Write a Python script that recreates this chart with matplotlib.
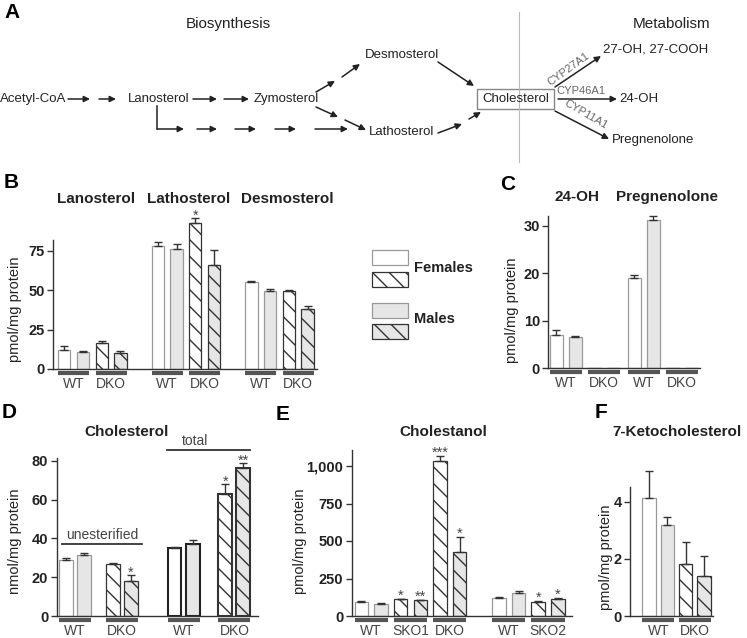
import numpy as np
import matplotlib.pyplot as plt
from matplotlib.patches import Rectangle
from matplotlib import transforms as mtransforms
from matplotlib.ticker import StrMethodFormatter

plt.rcParams['font.family'] = ['Liberation Sans', 'DejaVu Sans']
plt.rcParams['hatch.linewidth'] = 1.0

W, H = 747, 638

# ---- data ----
# bar order in every pair of groups: female WT-like, male, female hatched, male hatched
lanosterol = [12.0, 10.5, 16.3, 10.4]
lanosterol_err = [2.8, 0.9, 1.3, 0.7]
lathosterol = [78.0, 76.0, 92.3, 66.0]
lathosterol_err = [2.5, 3.5, 3.2, 9.3]
desmosterol = [55.0, 49.3, 49.2, 38.2]
desmosterol_err = [0.5, 1.2, 0.7, 2.0]
b_labels = ['WT', 'DKO', 'WT', 'DKO', 'WT', 'DKO']

oh24 = [7.0, 6.6, 0.0, 0.0]
oh24_err = [1.0, 0.3, 0.0, 0.0]
pregnenolone = [19.1, 31.2, 0.0, 0.0]
pregnenolone_err = [0.5, 0.8, 0.0, 0.0]
c_labels = ['WT', 'DKO', 'WT', 'DKO']

unesterified = [29.0, 31.5, 26.8, 18.0]
unesterified_err = [1.0, 1.0, 0.4, 3.0]
total_chol = [35.2, 37.4, 62.7, 76.4]
total_chol_err = [0.4, 1.8, 5.2, 2.3]
d_labels = ['WT', 'DKO', 'WT', 'DKO']

cholestanol = [95, 82, 111, 106, 1035, 430, 118, 152, 96, 112]
cholestanol_err = [6, 4, 4, 4, 32, 98, 7, 14, 5, 8]
e_labels = ['WT', 'SKO1', 'DKO', 'WT', 'SKO2']

keto7 = [4.14, 3.18, 1.81, 1.40]
keto7_err = [0.93, 0.29, 0.77, 0.71]
f_labels = ['WT', 'DKO']

GRAY = '#e6e6e6'
HATCH = '\\\\'

fig = plt.figure(figsize=(W / 100, H / 100), dpi=100)

# overlay in pixel coordinates for diagram, titles, legend
ov = fig.add_axes([0, 0, 1, 1])
ov.set_xlim(0, W)
ov.set_ylim(H, 0)
ov.axis('off')


def px_axes(left, right, y0, top):
    ax = fig.add_axes([left / W, 1 - y0 / H, (right - left) / W, (y0 - top) / H])
    ax.set_facecolor('none')
    for s in ['top', 'right']:
        ax.spines[s].set_visible(False)
    for s in ['left', 'bottom']:
        ax.spines[s].set_color('#333')
        ax.spines[s].set_linewidth(1.0)
    ax.tick_params(axis='y', length=4, width=1, color='#333', labelsize=10.5,
                   labelcolor='#222', pad=2)
    ax.tick_params(axis='x', length=0, labelsize=10, labelcolor='#444', pad=5.5)
    return ax


def bold_ticks(ax):
    for t in ax.get_yticklabels():
        t.set_fontweight('bold')


def draw_bars(ax, pos, vals, errs, width, kinds, open_edge='#999', lw=0.9):
    faces = [GRAY if k in ('M', 'Mh') else 'white' for k in kinds]
    edges = ['#333' if k.endswith('h') else open_edge for k in kinds]
    bars = ax.bar(pos, vals, width, color=faces, edgecolor=edges, linewidth=lw, zorder=2)
    for b, k in zip(bars, kinds):
        if k.endswith('h'):
            b.set_hatch(HATCH)
    pos = np.asarray(pos, float)
    vals = np.asarray(vals, float)
    errs = np.asarray(errs, float)
    m = errs > 0
    ax.errorbar(pos[m], vals[m], yerr=[np.zeros(m.sum()), errs[m]], fmt='none',
                ecolor='#333', elinewidth=1, capsize=3, capthick=1, zorder=3)


def group_marks(ax, pos, width, pairs, labels):
    trans = mtransforms.offset_copy(ax.get_xaxis_transform(), fig=fig, y=-4, units='dots')
    centers = []
    for a, b in pairs:
        ax.plot([pos[a] - width / 2, pos[b] + width / 2], [0, 0], transform=trans,
                color='#555', lw=3, solid_capstyle='butt', clip_on=False)
        centers.append((pos[a] + pos[b]) / 2)
    ax.set_xticks(centers)
    ax.set_xticklabels(labels)


def pairs_of(n):
    return [(2 * i, 2 * i + 1) for i in range(n)]


def stars(ax, x, top, txt):
    ax.annotate(txt, (x, top), xytext=(0, -3), textcoords='offset points',
                ha='center', va='bottom', fontsize=10.5, color='#444', annotation_clip=False)


KINDS4 = ['F', 'M', 'Fh', 'Mh']
title_kw = dict(fontsize=11, fontweight='bold', ha='center', va='center', color='#222')
ylab_kw = dict(rotation=90, fontsize=10.5, ha='center', va='center', color='#222')

# ---------------- panel A ----------------
ov.text(4, 12, 'A', fontsize=15, fontweight='bold', va='center')
ov.text(228, 24, 'Biosynthesis', fontsize=11, ha='center', va='center', color='#222')
ov.text(672, 24, 'Metabolism', fontsize=11, ha='center', va='center', color='#222')
ov.plot([519, 519], [12, 162], color='#bbb', lw=0.8)

node_kw = dict(fontsize=9.5, va='center', color='#222')
ov.text(0, 99, 'Acetyl-CoA', **node_kw)
ov.text(128, 99, 'Lanosterol', **node_kw)
ov.text(254, 99, 'Zymosterol', **node_kw)
ov.text(365, 55, 'Desmosterol', **node_kw)
ov.text(369, 132, 'Lathosterol', **node_kw)
ov.add_patch(Rectangle((477, 89), 77, 20, fill=False, edgecolor='#888', lw=1))
ov.text(515.5, 99, 'Cholesterol', ha='center', **node_kw)
ov.text(603, 50, '27-OH, 27-COOH', **node_kw)
ov.text(619, 99, '24-OH', **node_kw)
ov.text(612, 140, 'Pregnenolone', **node_kw)

arrows = [
    ((68, 99), (90, 99)), ((99, 99), (116, 99)),
    ((193, 99), (217, 99)), ((224, 99), (249, 99)),
    ((316, 92), (335, 81)), ((342, 77), (360, 64)),
    ((316, 107), (338, 117)), ((345, 120), (366, 130)),
    ((438, 62), (474, 86)),
    ((438, 133), (462, 124)), ((469, 119), (481, 112)),
    ((157, 129), (184, 129)), ((197, 129), (217, 129)), ((235, 129), (256, 129)),
    ((275, 129), (296, 129)), ((315, 129), (348, 129)),
    ((555, 87), (601, 56)), ((558, 99), (617, 99)), ((555, 111), (609, 139)),
]
for tail, head in arrows:
    ov.annotate('', xy=head, xytext=tail,
                arrowprops=dict(arrowstyle='-|>', color='#222', lw=1.1,
                                mutation_scale=9, shrinkA=0, shrinkB=0))
ov.plot([157, 157], [106, 129], color='#222', lw=1.1)

cyp_kw = dict(fontsize=8, color='#666', ha='center', va='center', rotation_mode='anchor')
ov.text(568, 69, 'CYP27A1', rotation=36, **cyp_kw)
ov.text(581, 91, 'CYP46A1', **cyp_kw)
ov.text(586, 114, 'CYP11A1', rotation=-30, **cyp_kw)

# ---------------- panel B ----------------
ov.text(4, 182, 'B', fontsize=15, fontweight='bold', va='center')
for name, x in zip(['Lanosterol', 'Lathosterol', 'Desmosterol'], [96, 189, 287]):
    ov.text(x, 199, name, **title_kw)
ov.text(15, 309, 'pmol/mg protein', **ylab_kw)

axB = px_axes(53, 317, 369, 211.3)
axB.set_xlim(-0.6, 13.5)
axB.set_ylim(0, 100)
axB.set_yticks([0, 25, 50, 75])
bold_ticks(axB)
axB.spines['left'].set_bounds(0, 82)
posB = [g * 5 + i for g in range(3) for i in range(4)]
valsB = lanosterol + lathosterol + desmosterol
errsB = lanosterol_err + lathosterol_err + desmosterol_err
draw_bars(axB, posB, valsB, errsB, 0.66, KINDS4 * 3)
group_marks(axB, posB, 0.66, pairs_of(6), b_labels)
stars(axB, posB[6], valsB[6] + errsB[6], '*')

# legend
leg_boxes = [(250, 'white', False), (272, 'white', True), (303, GRAY, False), (324, GRAY, True)]
for y, fc, h in leg_boxes:
    ov.add_patch(Rectangle((372, y), 36, 15, facecolor=fc,
                           edgecolor='#333' if h else '#999', lw=0.9,
                           hatch=HATCH if h else None))
ov.text(414, 268, 'Females', fontsize=10.5, fontweight='bold', va='center', color='#222')
ov.text(414, 319, 'Males', fontsize=10.5, fontweight='bold', va='center', color='#222')

# ---------------- panel C ----------------
ov.text(500, 185, 'C', fontsize=15, fontweight='bold', va='center')
ov.text(577, 197, '24-OH', **title_kw)
ov.text(667, 197, 'Pregnenolone', **title_kw)
ov.text(512, 310, 'pmol/mg protein', **ylab_kw)

axC = px_axes(548.3, 700, 368.3, 202)
axC.set_xlim(-0.42, 7.56)
axC.set_ylim(0, 35)
axC.set_yticks([0, 10, 20, 30])
bold_ticks(axC)
axC.spines['left'].set_bounds(0, 32)
posC = [0, 1, 2, 3, 4.1, 5.1, 6.1, 7.1]
draw_bars(axC, posC, oh24 + pregnenolone, oh24_err + pregnenolone_err, 0.67, KINDS4 * 2)
group_marks(axC, posC, 0.67, pairs_of(4), c_labels)

# ---------------- panel D ----------------
ov.text(2, 413, 'D', fontsize=15, fontweight='bold', va='center')
ov.text(127, 432, 'Cholesterol', **title_kw)
ov.text(15, 541, 'nmol/mg protein', **ylab_kw)

axD = px_axes(56.7, 258, 616, 457.1)
axD.set_xlim(-0.49, 10.6)
axD.set_ylim(0, 82)
axD.set_yticks([0, 20, 40, 60, 80])
bold_ticks(axD)
axD.spines['left'].set_bounds(0, 81.4)
posD = [0, 1, 2.6, 3.6, 6, 7, 8.8, 9.8]
draw_bars(axD, posD[:4], unesterified, unesterified_err, 0.77, KINDS4)
draw_bars(axD, posD[4:], total_chol, total_chol_err, 0.77, KINDS4, open_edge='#222', lw=1.5)
group_marks(axD, posD, 0.77, pairs_of(4), d_labels)
stars(axD, posD[3], unesterified[3] + unesterified_err[3], '*')
stars(axD, posD[6], total_chol[2] + total_chol_err[2], '*')
stars(axD, posD[7], total_chol[3] + total_chol_err[3], '**')

ov.plot([62, 142], [544, 544], color='#333', lw=1.3)
ov.text(102, 535, 'unesterified', fontsize=10, ha='center', va='center', color='#444')
ov.plot([167, 250], [450, 450], color='#333', lw=1.3)
ov.text(195, 441, 'total', fontsize=10, ha='center', va='center', color='#444')

# ---------------- panel E ----------------
ov.text(276, 415, 'E', fontsize=15, fontweight='bold', va='center')
ov.text(443, 432, 'Cholestanol', **title_kw)
ov.text(300, 541, 'pmol/mg protein', **ylab_kw)

axE = px_axes(351.7, 571.7, 616, 449.5)
axE.set_xlim(-0.49, 10.7)
axE.set_ylim(0, 1110)
axE.set_yticks([0, 250, 500, 750, 1000])
axE.yaxis.set_major_formatter(StrMethodFormatter('{x:,.0f}'))
bold_ticks(axE)
axE.spines['left'].set_bounds(0, 1107)
posE = [0, 1, 2, 3, 4, 5, 7, 8, 9, 10]
kindsE = ['F', 'M', 'Fh', 'Mh', 'Fh', 'Mh', 'F', 'M', 'Fh', 'Mh']
draw_bars(axE, posE, cholestanol, cholestanol_err, 0.69, kindsE)
group_marks(axE, posE, 0.69, pairs_of(5), e_labels)
for i, txt in zip([2, 3, 4, 5, 8, 9], ['*', '**', '***', '*', '*', '*']):
    stars(axE, posE[i], cholestanol[i] + cholestanol_err[i], txt)

# ---------------- panel F ----------------
ov.text(595, 413, 'F', fontsize=15, fontweight='bold', va='center')
ov.text(677, 432, '7-Ketocholesterol', **title_kw)
ov.text(606, 557, 'pmol/mg protein', **ylab_kw)

axF = px_axes(630, 713, 616, 464.4)
axF.set_xlim(-1.05, 3.5)
axF.set_ylim(0, 5.3)
axF.set_yticks([0, 2, 4])
bold_ticks(axF)
axF.spines['left'].set_bounds(0, 4.5)
posF = [0, 1, 2, 3]
draw_bars(axF, posF, keto7, keto7_err, 0.75, KINDS4)
group_marks(axF, posF, 0.75, pairs_of(2), f_labels)

fig.savefig('out.png', dpi=100)
